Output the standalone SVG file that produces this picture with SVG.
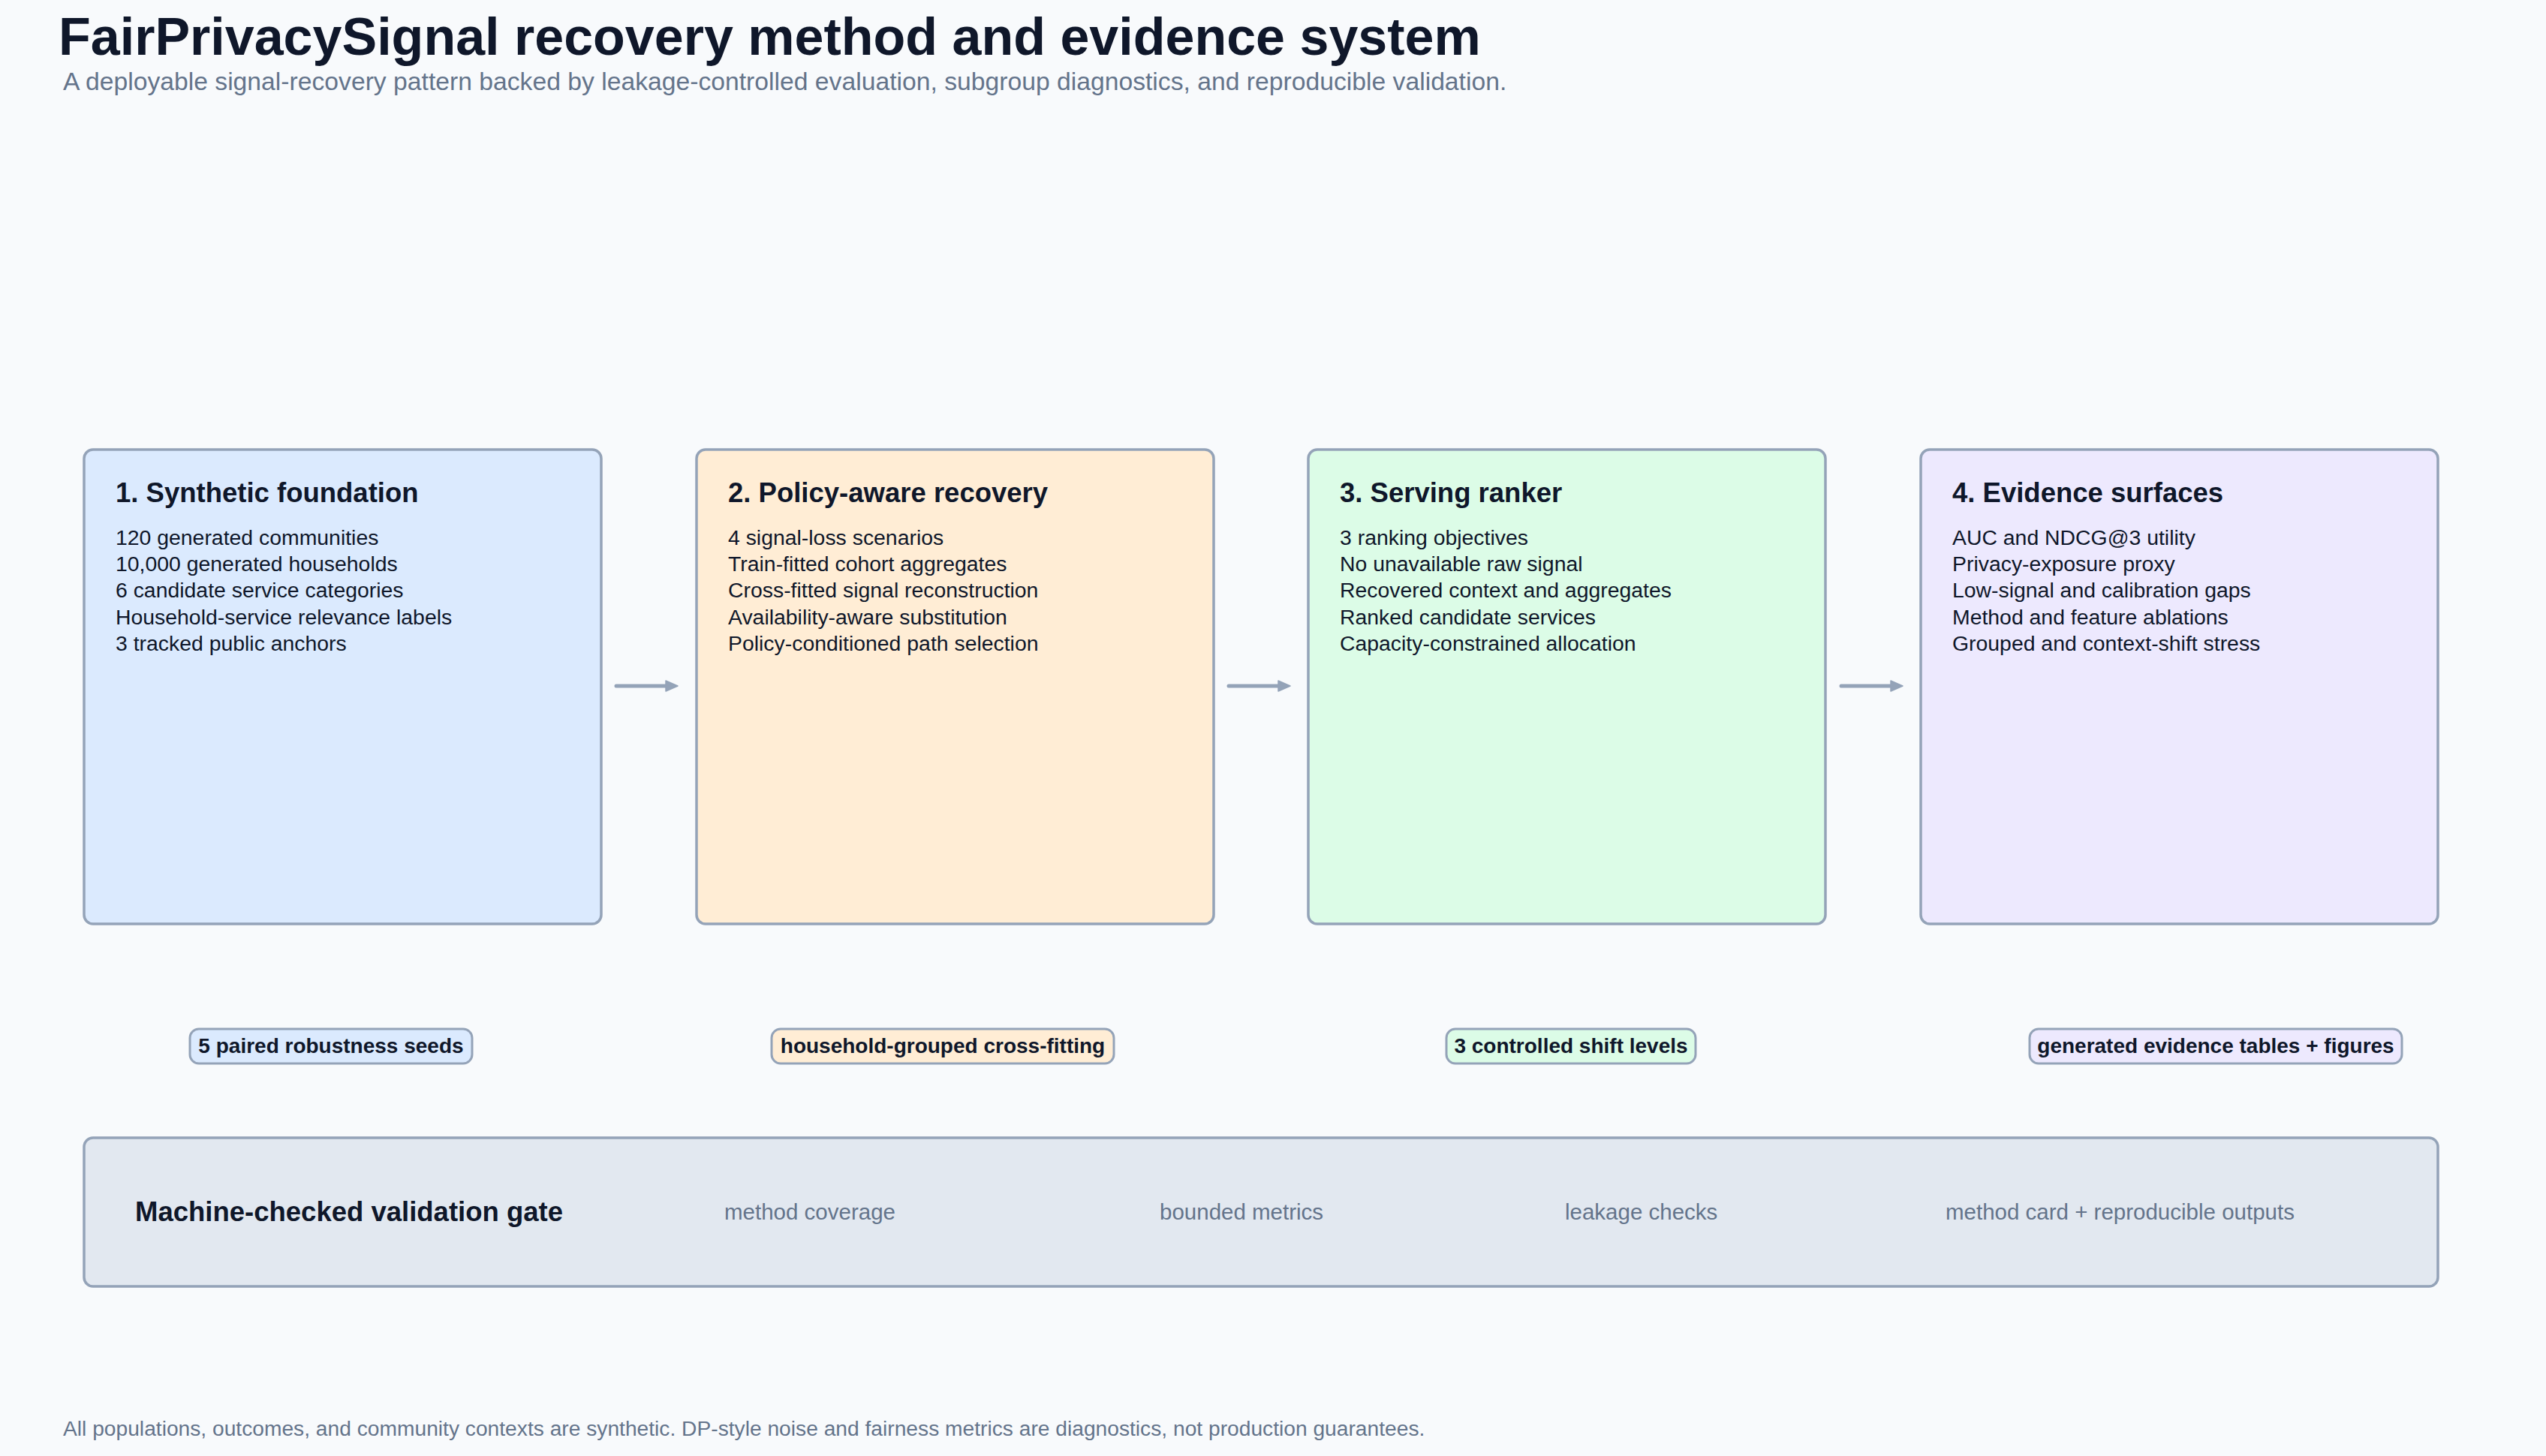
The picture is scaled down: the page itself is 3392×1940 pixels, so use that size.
<svg xmlns="http://www.w3.org/2000/svg" width="3392" height="1940" viewBox="0 0 3392 1940">
<style>
text{font-family:"Liberation Sans",Arial,sans-serif}
.title{font-size:70px;font-weight:700;fill:#0f172a}
.sub{font-size:33.7px;fill:#64748b}
.card{stroke:#94a3b8;stroke-width:3.5}
.head{font-size:36.5px;font-weight:700;fill:#0f172a}
.body{font-size:28.4px;fill:#0f172a}
.pill{stroke:#94a3b8;stroke-width:3}
.ptext{font-size:28px;font-weight:700;fill:#0f172a;text-anchor:middle}
.gate{fill:#e2e8f0;stroke:#94a3b8;stroke-width:3.5}
.check{font-size:29.5px;fill:#64748b}
.foot{font-size:28.2px;fill:#64748b}
.conn{stroke:#94a3b8;stroke-width:5;stroke-linecap:round;fill:none}
.blue{fill:#dbeafe}.orange{fill:#ffedd5}.green{fill:#dcfce7}.purple{fill:#ede9fe}
</style>
<defs>
<marker id="ah" markerUnits="userSpaceOnUse" markerWidth="20" markerHeight="18" refX="1" refY="8" orient="auto">
<path d="M1,1 L17,8 L1,15 Z" fill="#94a3b8" stroke="#94a3b8" stroke-width="1.5" stroke-linejoin="round"/>
</marker>
</defs>
<rect width="3392" height="1940" fill="#f8fafc"/>
<text class="title" x="78" y="73">FairPrivacySignal recovery method and evidence system</text>
<text class="sub" x="84" y="120">A deployable signal-recovery pattern backed by leakage-controlled evaluation, subgroup diagnostics, and reproducible validation.</text>

<g id="node1">
<rect class="card blue" x="112" y="599" width="689" height="632" rx="12"/>
<text class="head" x="154" y="669">1. Synthetic foundation</text>
<text class="body" x="154" y="726">120 generated communities</text>
<text class="body" x="154" y="761">10,000 generated households</text>
<text class="body" x="154" y="796">6 candidate service categories</text>
<text class="body" x="154" y="832">Household-service relevance labels</text>
<text class="body" x="154" y="867">3 tracked public anchors</text>
</g>
<g id="node2">
<rect class="card orange" x="928" y="599" width="689" height="632" rx="12"/>
<text class="head" x="970" y="669">2. Policy-aware recovery</text>
<text class="body" x="970" y="726">4 signal-loss scenarios</text>
<text class="body" x="970" y="761">Train-fitted cohort aggregates</text>
<text class="body" x="970" y="796">Cross-fitted signal reconstruction</text>
<text class="body" x="970" y="832">Availability-aware substitution</text>
<text class="body" x="970" y="867">Policy-conditioned path selection</text>
</g>
<g id="node3">
<rect class="card green" x="1743" y="599" width="689" height="632" rx="12"/>
<text class="head" x="1785" y="669">3. Serving ranker</text>
<text class="body" x="1785" y="726">3 ranking objectives</text>
<text class="body" x="1785" y="761">No unavailable raw signal</text>
<text class="body" x="1785" y="796">Recovered context and aggregates</text>
<text class="body" x="1785" y="832">Ranked candidate services</text>
<text class="body" x="1785" y="867">Capacity-constrained allocation</text>
</g>
<g id="node4">
<rect class="card purple" x="2559" y="599" width="689" height="632" rx="12"/>
<text class="head" x="2601" y="669">4. Evidence surfaces</text>
<text class="body" x="2601" y="726">AUC and NDCG@3 utility</text>
<text class="body" x="2601" y="761">Privacy-exposure proxy</text>
<text class="body" x="2601" y="796">Low-signal and calibration gaps</text>
<text class="body" x="2601" y="832">Method and feature ablations</text>
<text class="body" x="2601" y="867">Grouped and context-shift stress</text>
</g>

<g id="connectors">
<line class="conn" x1="821" y1="914" x2="887" y2="914" marker-end="url(#ah)"/>
<line class="conn" x1="1637" y1="914" x2="1703" y2="914" marker-end="url(#ah)"/>
<line class="conn" x1="2453" y1="914" x2="2519" y2="914" marker-end="url(#ah)"/>
</g>

<g id="pill1">
<rect class="pill blue" x="253" y="1371" width="376" height="46" rx="12"/>
<text class="ptext" x="441" y="1403">5 paired robustness seeds</text>
</g>
<g id="pill2">
<rect class="pill orange" x="1028" y="1371" width="456" height="46" rx="12"/>
<text class="ptext" x="1256" y="1403">household-grouped cross-fitting</text>
</g>
<g id="pill3">
<rect class="pill green" x="1927" y="1371" width="332" height="46" rx="12"/>
<text class="ptext" x="2093" y="1403">3 controlled shift levels</text>
</g>
<g id="pill4">
<rect class="pill purple" x="2704" y="1371" width="496" height="46" rx="12"/>
<text class="ptext" x="2952" y="1403">generated evidence tables + figures</text>
</g>

<g id="gate">
<rect class="gate" x="112" y="1516" width="3136" height="198" rx="12"/>
<text class="head" x="180" y="1627">Machine-checked validation gate</text>
<text class="check" x="965" y="1625">method coverage</text>
<text class="check" x="1545" y="1625">bounded metrics</text>
<text class="check" x="2085" y="1625">leakage checks</text>
<text class="check" x="2592" y="1625">method card + reproducible outputs</text>
</g>

<text class="foot" x="84" y="1913">All populations, outcomes, and community contexts are synthetic. DP-style noise and fairness metrics are diagnostics, not production guarantees.</text>
</svg>
